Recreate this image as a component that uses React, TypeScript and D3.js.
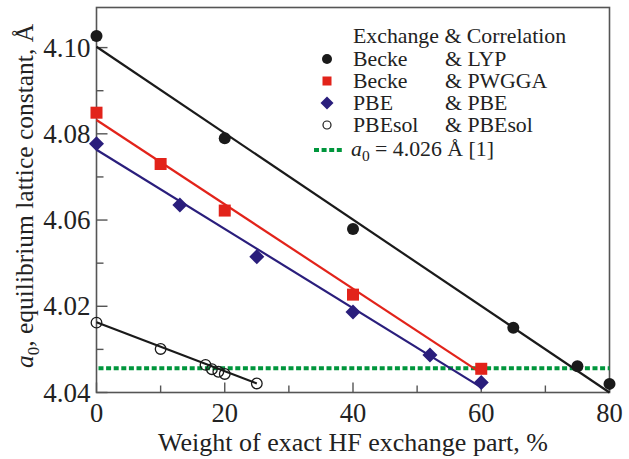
import * as d3 from 'd3'

const W = 629
const H = 459
const M = { top: 7.5, right: 19.5, bottom: 66.5, left: 96.5 }

// HF exchange weight (%) and lattice constant (Å) per functional
const lypX = [0, 20, 40, 65, 75, 80]
const lypY = [4.1027, 4.079, 4.0579, 4.035, 4.0261, 4.022]
const pwggaX = [0, 10, 20, 40, 60]
const pwggaY = [4.0849, 4.073, 4.0622, 4.0427, 4.0255]
const pbeX = [0, 13, 25, 40, 52, 60]
const pbeY = [4.0777, 4.0635, 4.0515, 4.0387, 4.0287, 4.0223]
const pbesolX = [0, 10, 17, 18, 19, 20, 25]
const pbesolY = [4.0362, 4.0301, 4.0264, 4.0254, 4.0248, 4.0243, 4.0221]

// fitted straight lines: [x0, y0, x1, y1]
const lypFit = [0, 4.1002, 80, 4.02]
const pwggaFit = [0, 4.0832, 60, 4.0245]
const pbeFit = [0, 4.0763, 60, 4.0212]
const pbesolFit = [0, 4.0363, 25, 4.0221]

const expA0 = 4.0256

const xTicks = [0, 20, 40, 60, 80]
const xMinor = [10, 30, 50, 70]
const yTicks = [4.02, 4.04, 4.06, 4.08, 4.1]
const yTickLabels = ['4.04', '4.02', '4.06', '4.08', '4.10']
const yMinor = [4.03, 4.05, 4.07, 4.09]

const legendRows = [
  { a: 'Becke', b: '& LYP' },
  { a: 'Becke', b: '& PWGGA' },
  { a: 'PBE', b: '& PBE' },
  { a: 'PBEsol', b: '& PBEsol' },
]

const BLACK = '#1a1a1a'
const RED = '#e2231a'
const BLUE = '#2a1e7c'
const GREEN = '#00963c'
const AXIS = '#555'
const FONT = '"Liberation Serif", "Times New Roman", serif'

function diamond(cx: number, cy: number, r: number) {
  return `M${cx},${cy - r}L${cx + r},${cy}L${cx},${cy + r}L${cx - r},${cy}Z`
}

export default function App() {
  const x = d3.scaleLinear().domain([0, 80]).range([M.left, W - M.right])
  const y = d3.scaleLinear().domain([4.02, 4.1093]).range([H - M.bottom, M.top])
  const x0 = M.left
  const x1 = W - M.right
  const y0 = H - M.bottom
  const y1 = M.top

  const fitPath = (f: number[]) =>
    d3.line<[number, number]>().x(d => x(d[0])).y(d => y(d[1]))([[f[0], f[1]], [f[2], f[3]]]) || ''

  const lx = 327
  const tx1 = 353
  const tx2 = 445
  const rowBase = [66, 88, 110, 132]

  return (
    <svg width={W} height={H} style={{ position: 'absolute', left: 0, top: 0, background: '#fff' }}
      fontFamily={FONT}>
      {/* frame */}
      <rect x={x0} y={y1} width={x1 - x0} height={y0 - y1} fill="none" stroke={AXIS} strokeWidth={1.6} />

      {/* ticks, inward */}
      {xTicks.map(t => (
        <line key={'xt' + t} x1={x(t)} x2={x(t)} y1={y0} y2={y0 - 10} stroke={AXIS} strokeWidth={1.4} />
      ))}
      {xMinor.map(t => (
        <line key={'xm' + t} x1={x(t)} x2={x(t)} y1={y0} y2={y0 - 7} stroke={AXIS} strokeWidth={1.4} />
      ))}
      {yTicks.map(t => (
        <line key={'yt' + t} x1={x0} x2={x0 + 11} y1={y(t)} y2={y(t)} stroke={AXIS} strokeWidth={1.4} />
      ))}
      {yMinor.map(t => (
        <line key={'ym' + t} x1={x0} x2={x0 + 7} y1={y(t)} y2={y(t)} stroke={AXIS} strokeWidth={1.4} />
      ))}

      {/* tick labels */}
      {xTicks.map(t => (
        <text key={'xl' + t} x={x(t)} y={422} textAnchor="middle" fontSize={26.5} fill="#222">{t}</text>
      ))}
      {yTicks.map((t, i) => (
        <text key={'yl' + t} x={x0 - 6} y={y(t) + 9} textAnchor="end" fontSize={27} fill="#222">
          {yTickLabels[i]}
        </text>
      ))}

      {/* axis titles */}
      <text x={(x0 + x1) / 2} y={451} textAnchor="middle" fontSize={26} fill="#222">
        Weight of exact HF exchange part, %
      </text>
      <text transform={`translate(33,196) rotate(-90)`} textAnchor="middle" fontSize={25.5} fill="#222">
        <tspan fontStyle="italic">a</tspan>
        <tspan fontSize={17} dy={6}>0</tspan>
        <tspan dy={-6}>, equilibrium lattice constant, Å</tspan>
      </text>

      {/* experimental reference */}
      <line x1={x0 + 2} x2={x1} y1={y(expA0)} y2={y(expA0)} stroke={GREEN} strokeWidth={4}
        strokeDasharray="5,2.6" />

      {/* fit lines */}
      <path d={fitPath(lypFit)} stroke={BLACK} strokeWidth={2.2} fill="none" />
      <path d={fitPath(pwggaFit)} stroke={RED} strokeWidth={2.2} fill="none" />
      <path d={fitPath(pbeFit)} stroke={BLUE} strokeWidth={2.2} fill="none" />
      <path d={fitPath(pbesolFit)} stroke={BLACK} strokeWidth={2.2} fill="none" />

      {/* markers */}
      {lypX.map((v, i) => (
        <circle key={'b' + i} cx={x(v)} cy={y(lypY[i])} r={6} fill={BLACK} />
      ))}
      {pwggaX.map((v, i) => (
        <rect key={'r' + i} x={x(v) - 6} y={y(pwggaY[i]) - 6} width={12} height={12} fill={RED} />
      ))}
      {pbeX.map((v, i) => (
        <path key={'d' + i} d={diamond(x(v), y(pbeY[i]), 7.5)} fill={BLUE} />
      ))}
      {pbesolX.map((v, i) => (
        <circle key={'o' + i} cx={x(v)} cy={y(pbesolY[i])} r={5.3} fill="none" stroke={BLACK} strokeWidth={1.3} />
      ))}

      {/* legend */}
      <g fontSize={21.8} fill="#222">
        <text x={tx1} y={43}>Exchange &amp; Correlation</text>
        {legendRows.map((r, i) => (
          <g key={'lg' + i}>
            <text x={tx1} y={rowBase[i]}>{r.a}</text>
            <text x={tx2} y={rowBase[i]}>{r.b}</text>
          </g>
        ))}
        <circle cx={lx} cy={rowBase[0] - 7} r={5} fill={BLACK} />
        <rect x={lx - 4.5} y={rowBase[1] - 11.5} width={9} height={9} fill={RED} />
        <path d={diamond(lx, rowBase[2] - 7, 6.5)} fill={BLUE} />
        <circle cx={lx} cy={rowBase[3] - 7} r={4} fill="none" stroke={BLACK} strokeWidth={1.2} />
        <line x1={314} x2={342} y1={150} y2={150} stroke={GREEN} strokeWidth={4} strokeDasharray="5,2.6" />
        <text x={351} y={155.5}>
          <tspan fontStyle="italic">a</tspan>
          <tspan fontSize={15.5} dy={5}>0</tspan>
          <tspan dy={-5}> = 4.026 Å [1]</tspan>
        </text>
      </g>
    </svg>
  )
}
